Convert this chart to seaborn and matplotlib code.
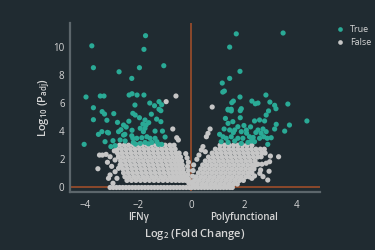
import matplotlib
matplotlib.use("Agg")
import matplotlib.pyplot as plt
import seaborn as sns
import pandas as pd

# ---------------- data ----------------
# significant genes (True)
sig_x = [-3.75, -3.69, -2.72, -2.24, -3.97, -3.43, -3.29, -2.34, -2.23, -3.69, -2.12,
         -1.72, -1.78, -1.95, -1.03, -2.04, -1.78, -1.56, -1.38, -1.21, -1.11, -1.21,
         1.71, 1.46, 1.85, 1.18, 1.46, 1.20, 1.26, 1.85, 2.30, 1.54, 1.60, 1.40, 1.52, 1.90,
         3.48, 2.83, 2.43, 2.53, 2.98, 3.16, 3.66, 3.21,
         -3.36, -3.27, -2.92, -3.69, -3.18, -2.78, -2.55, -2.45, -2.65, -2.74, -2.23, -2.50,
         -3.37, -3.50, -3.12, -3.25, -2.95, -2.68, -2.49, -2.20, -2.18, -4.04, -3.03, -2.87,
         -3.16, -2.55,
         -1.14, -1.74, -1.82, -1.70, -1.92, -1.74, -1.80, -1.14, -1.36, -1.08, -0.98,
         -1.67, -1.55, -1.86, -2.05, -2.24, -1.36, -1.29, -1.48, -1.11, -1.23, -2.10,
         -1.92, -1.74, -1.61, -2.20, -2.11, -1.50, -1.95, -1.30, -2.35, -1.60,
         1.40, 1.52, 1.86, 1.86, 1.40, 1.58, 1.77, 1.25, 1.46, 1.65, 1.90, 2.09,
         1.08, 1.21, 1.33, 1.52, 1.77, 1.96, 2.21, 1.14, 1.40, 1.65, 1.90, 2.15,
         2.93, 2.84, 2.40, 2.59, 2.78, 3.22, 3.72, 3.16, 3.54, 4.38, 2.53, 2.72,
         2.65, 2.84, 2.75, 2.88, 3.03, 2.59, 2.40, 2.28, 2.90,
         2.00, 2.25, 1.30, 2.10, 2.45, 1.60, 2.35]
sig_y = [10.05, 8.50, 8.21, 7.74, 6.42, 6.49, 6.49, 6.56, 6.65, 5.66, 5.85,
         10.77, 9.80, 8.50, 8.64, 6.56, 6.56, 5.99, 5.80, 6.09, 5.87, 5.55,
         10.90, 9.96, 8.24, 7.41, 7.74, 6.77, 6.84, 6.42, 6.13, 6.02, 6.13, 5.55, 5.55, 5.59,
         10.96, 6.56, 5.94, 5.99, 6.06, 5.83, 5.92, 5.59,
         5.38, 5.21, 5.24, 4.81, 4.77, 4.62, 4.43, 4.29, 4.10, 3.96, 4.06, 3.77,
         3.96, 3.77, 3.87, 3.25, 3.32, 3.37, 3.30, 3.49, 3.20, 3.06, 2.90, 2.97,
         3.91, 3.72,
         5.45, 4.79, 4.50, 4.43, 4.20, 4.20, 3.96, 4.67, 4.00, 4.00, 3.58,
         3.60, 3.49, 3.53, 3.49, 3.67, 3.49, 3.25, 3.20, 3.06, 3.06, 3.08,
         3.13, 3.20, 3.10, 5.26, 5.14, 5.20, 4.95, 4.85, 4.70, 4.60,
         5.50, 5.43, 5.45, 4.95, 4.55, 4.67, 4.31, 4.15, 4.08, 4.08, 3.96, 4.08,
         3.77, 3.60, 3.49, 3.60, 3.49, 3.49, 3.60, 3.25, 3.20, 3.30, 3.13, 3.20,
         5.43, 5.14, 4.72, 4.79, 4.72, 4.48, 4.43, 4.15, 4.00, 4.72, 4.08, 4.15,
         3.84, 3.96, 3.60, 3.49, 3.53, 3.49, 3.25, 3.30, 3.06,
         4.40, 4.30, 4.90, 3.85, 3.90, 3.90, 3.55]

# scattered non-significant genes (False)
ns_x = [-0.94, -0.57, 0.80, -0.69, -0.54, -0.48, 0.72, 0.64, 0.58, 0.45, 0.39, 0.54, 0.30, 0.22,
        -3.46, -3.35, -3.21, -3.06, -2.87, -3.16, -3.52, -3.06, -3.12, -2.87, -2.74, -2.95,
        -2.80, -2.68, -2.74, -3.00, -2.90,
        2.65, 3.00, 3.31, 2.84, 2.68, 2.53, 2.97, 2.63, 2.95, 2.40, 2.30, 2.72, 2.90, 2.60,
        -0.08, -0.10, -0.12, -0.10, -0.13, -0.10, -0.15, -0.20, 0.04, 0.06, 0.08, 0.10]
ns_y = [6.09, 6.49, 5.71, 4.15, 3.53, 3.37, 4.15, 3.84, 3.60, 2.90, 2.66, 2.54, 2.30, 2.00,
        2.30, 2.30, 2.35, 2.18, 1.95, 1.79, 1.33, 0.89, 0.65, 1.12, 1.36, 0.30,
        0.65, 1.60, 2.18, 1.50, 2.60,
        2.18, 2.23, 2.18, 1.72, 1.65, 1.65, 1.83, 1.24, 1.15, 0.82, 0.65, 0.77, 0.53, 1.00,
        0.30, 0.60, 0.90, 1.20, 1.50, 1.80, 2.10, 2.40, 0.40, 0.80, 1.20, 1.60]

# dense non-significant cloud, read row by row (row level -> x positions)
cloud_left_levels = [3.0, 2.72, 2.44, 2.16, 1.88, 1.6, 1.32, 1.04, 0.76, 0.5, 0.0]
cloud_left_x = [
    [-2.7, -2.52, -2.36, -2.18, -2.0, -1.84, -1.66, -1.5, -1.32, -1.15, -0.98, -0.8, -0.64],
    [-2.8, -2.63, -2.46, -2.29, -2.12, -1.95, -1.78, -1.61, -1.44, -1.27, -1.1, -0.93, -0.76, -0.6],
    [-2.78, -2.61, -2.44, -2.27, -2.1, -1.93, -1.76, -1.59, -1.42, -1.25, -1.08, -0.91, -0.74, -0.58, -0.45],
    [-2.74, -2.57, -2.4, -2.23, -2.06, -1.89, -1.72, -1.55, -1.38, -1.21, -1.04, -0.87, -0.7, -0.54, -0.4],
    [-2.66, -2.49, -2.32, -2.15, -1.98, -1.81, -1.64, -1.47, -1.3, -1.13, -0.96, -0.79, -0.63, -0.49, -0.36],
    [-2.62, -2.45, -2.28, -2.11, -1.94, -1.77, -1.6, -1.43, -1.26, -1.09, -0.92, -0.75, -0.6, -0.46, -0.33],
    [-2.58, -2.41, -2.24, -2.07, -1.9, -1.73, -1.56, -1.39, -1.22, -1.05, -0.88, -0.72, -0.57, -0.43, -0.3],
    [-2.55, -2.38, -2.21, -2.04, -1.87, -1.7, -1.53, -1.36, -1.19, -1.02, -0.85, -0.69, -0.54, -0.4, -0.27],
    [-2.5, -2.33, -2.16, -1.99, -1.82, -1.65, -1.48, -1.31, -1.14, -0.97, -0.8, -0.65, -0.5, -0.36, -0.23],
    [-2.42, -2.25, -2.08, -1.91, -1.74, -1.57, -1.4, -1.23, -1.06, -0.89, -0.73, -0.58, -0.44, -0.31, -0.19],
    [-3.06, -2.94, -2.82, -2.7, -2.58, -2.46, -2.34, -2.22, -2.1, -1.98, -1.86, -1.74, -1.62, -1.5,
     -1.38, -1.26, -1.14, -1.02, -0.9, -0.78, -0.66, -0.54, -0.42, -0.3, -0.18, -0.06],
]
cloud_right_levels = [3.0, 2.72, 2.44, 2.16, 1.88, 1.6, 1.32, 1.04, 0.76, 0.5, 0.24, 0.0]
cloud_right_x = [
    [1.1, 1.27, 1.44, 1.61, 1.78, 1.95, 2.12, 2.3],
    [0.92, 1.09, 1.26, 1.43, 1.6, 1.77, 1.94, 2.11, 2.28, 2.45, 2.62, 2.77],
    [0.8, 0.97, 1.14, 1.31, 1.48, 1.65, 1.82, 1.99, 2.16, 2.33, 2.5, 2.67, 2.8],
    [0.66, 0.83, 1.0, 1.17, 1.34, 1.51, 1.68, 1.85, 2.02, 2.19, 2.36, 2.52],
    [0.54, 0.71, 0.88, 1.05, 1.22, 1.39, 1.56, 1.73, 1.9, 2.07, 2.24, 2.42],
    [0.44, 0.61, 0.78, 0.95, 1.12, 1.29, 1.46, 1.63, 1.8, 1.97, 2.14, 2.31, 2.45],
    [0.36, 0.53, 0.7, 0.87, 1.04, 1.21, 1.38, 1.55, 1.72, 1.89, 2.06, 2.23, 2.38],
    [0.28, 0.45, 0.62, 0.79, 0.96, 1.13, 1.3, 1.47, 1.64, 1.81, 1.98, 2.15, 2.3],
    [0.2, 0.37, 0.54, 0.71, 0.88, 1.05, 1.22, 1.39, 1.56, 1.73, 1.9, 2.07, 2.2],
    [0.14, 0.3, 0.47, 0.64, 0.81, 0.98, 1.15, 1.32, 1.49, 1.66, 1.83, 1.98],
    [0.08, 0.24, 0.41, 0.58, 0.75, 0.92, 1.09, 1.26, 1.43, 1.6, 1.75],
    [0.03, 0.15, 0.27, 0.39, 0.51, 0.63, 0.75, 0.87, 0.99, 1.11, 1.23, 1.35, 1.47, 1.56],
]

x_ticks = [-4, -2, 0, 2, 4]
y_ticks = [0, 2, 4, 6, 8, 10]
group_labels = ["IFNγ", "Polyfunctional"]
group_pos = [-2, 2]
legend_labels = ["True", "False"]

# ---------------- build the table ----------------
rows = []
for lv, xs in zip(cloud_left_levels, cloud_left_x):
    rows += [(x, lv, "False") for x in xs]
for lv, xs in zip(cloud_right_levels, cloud_right_x):
    rows += [(x, lv, "False") for x in xs]
rows += [(x, y, "False") for x, y in zip(ns_x, ns_y)]
rows += [(x, y, "True") for x, y in zip(sig_x, sig_y)]
df = pd.DataFrame(rows, columns=["log2fc", "nlog10p", "sig"])

# ---------------- style ----------------
BG = "#202b31"
GREEN = "#2aaa96"
GREY = "#c6c6c6"
ORANGE = "#a9502a"
SPINE = "#5c666b"
TXT = "#d6d6d6"

sns.set_style("dark")
plt.rcParams["font.family"] = ["Open Sans", "DejaVu Sans"]
plt.rcParams["mathtext.fontset"] = "custom"
plt.rcParams["mathtext.rm"] = "Open Sans"
plt.rcParams["mathtext.default"] = "regular"

fig = plt.figure(figsize=(3.75, 2.5), dpi=100)
fig.patch.set_facecolor(BG)
ax = fig.add_axes([0.187, 0.232, 0.666, 0.676])
ax.set_facecolor(BG)

ax.axvline(0, color=ORANGE, lw=1.1, zorder=0.5)
ax.axhline(0, color=ORANGE, lw=1.1, zorder=0.5)

sns.scatterplot(data=df, x="log2fc", y="nlog10p", hue="sig",
                hue_order=legend_labels, palette={"True": GREEN, "False": GREY},
                s=14, linewidth=0, ax=ax, zorder=2)

ax.set_xlim(-4.57, 4.87)
ax.set_ylim(-0.32, 11.67)
ax.set_xticks(x_ticks)
ax.set_yticks(y_ticks)
ax.grid(False)
ax.tick_params(length=0, labelsize=7, labelcolor=TXT, pad=4)
ax.tick_params(axis="x", pad=6)

for side in ["top", "right"]:
    ax.spines[side].set_visible(False)
for side in ["left", "bottom"]:
    ax.spines[side].set_visible(True)
    ax.spines[side].set_color(SPINE)
    ax.spines[side].set_linewidth(1.6)

for lab, pos in zip(group_labels, group_pos):
    ax.annotate(lab, xy=(pos, -0.15), xycoords=("data", "axes fraction"),
                ha="center", va="center", fontsize=7, color=TXT, fontweight="semibold")

ax.set_xlabel(r"Log$_2$ (Fold Change)", fontsize=8, color=TXT, fontweight="semibold")
ax.set_ylabel(r"Log$_{10}$ (P$_{adj}$)", fontsize=8, color=TXT, fontweight="semibold")
ax.xaxis.set_label_coords(0.5, -0.205)
ax.yaxis.set_label_coords(-0.072, 0.5)

leg = ax.legend(loc="upper left", bbox_to_anchor=(1.03, 1.01), frameon=False,
                fontsize=6.5, handletextpad=0.1, labelspacing=0.45, markerscale=0.9,
                borderaxespad=0)
for t in leg.get_texts():
    t.set_color(TXT)

fig.savefig("out.png", dpi=100, facecolor=BG)
